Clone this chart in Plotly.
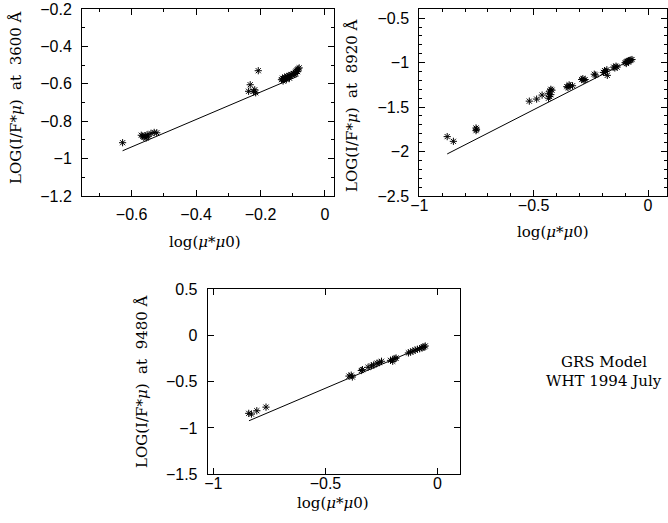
import plotly.graph_objects as go

# ---------------- data ----------------
p1_x = [-0.628, -0.570, -0.566, -0.562, -0.558, -0.555, -0.552, -0.548, -0.540, -0.530, -0.522,
        -0.237, -0.232, -0.222, -0.218, -0.215, -0.207,
        -0.135, -0.132, -0.128, -0.125, -0.122, -0.118, -0.115, -0.112, -0.108, -0.105, -0.102,
        -0.098, -0.095, -0.092, -0.089, -0.086, -0.083, -0.080, -0.130, -0.120, -0.110, -0.090, -0.085]
p1_y = [-0.915, -0.875, -0.880, -0.885, -0.878, -0.890, -0.872, -0.880, -0.865, -0.860, -0.862,
        -0.640, -0.605, -0.640, -0.632, -0.648, -0.530,
        -0.578, -0.570, -0.574, -0.565, -0.568, -0.560, -0.563, -0.556, -0.558, -0.550, -0.553,
        -0.545, -0.548, -0.538, -0.532, -0.525, -0.520, -0.515, -0.585, -0.578, -0.570, -0.545, -0.535]
fit1_x = [-0.628, -0.085]
fit1_y = [-0.958, -0.560]

p2_x = [-0.878, -0.851, -0.752, -0.750, -0.752, -0.519, -0.487, -0.463,
        -0.435, -0.430, -0.425, -0.420, -0.430, -0.425, -0.435,
        -0.355, -0.345, -0.340, -0.350, -0.330,
        -0.290, -0.285, -0.280, -0.275, -0.235, -0.230,
        -0.190, -0.185, -0.195, -0.180, -0.178, -0.150, -0.145, -0.140, -0.135,
        -0.100, -0.095, -0.090, -0.085, -0.080, -0.075, -0.070, -0.095, -0.085]
p2_y = [-1.832, -1.885, -1.735, -1.750, -1.765, -1.433, -1.410, -1.365,
        -1.350, -1.320, -1.300, -1.310, -1.380, -1.360, -1.400,
        -1.270, -1.250, -1.260, -1.280, -1.260,
        -1.190, -1.180, -1.200, -1.190, -1.130, -1.140,
        -1.090, -1.100, -1.110, -1.080, -1.143, -1.050, -1.060, -1.040, -1.050,
        -1.000, -0.990, -0.985, -0.980, -0.975, -0.970, -0.965, -1.010, -0.995]
fit2_x = [-0.878, -0.075]
fit2_y = [-2.027, -0.970]

p3_x = [-0.842, -0.830, -0.806, -0.765,
        -0.395, -0.385, -0.380, -0.340, -0.335,
        -0.310, -0.295, -0.285, -0.270, -0.260, -0.250,
        -0.210, -0.200, -0.190, -0.185, -0.200,
        -0.130, -0.120, -0.110, -0.100, -0.090, -0.080, -0.070, -0.065, -0.060, -0.055]
p3_y = [-0.842, -0.850, -0.814, -0.775,
        -0.440, -0.430, -0.450, -0.380, -0.370,
        -0.345, -0.330, -0.320, -0.300, -0.295, -0.280,
        -0.270, -0.260, -0.250, -0.245, -0.280,
        -0.190, -0.180, -0.170, -0.160, -0.150, -0.145, -0.135, -0.130, -0.125, -0.115]
fit3_x = [-0.841, -0.057]
fit3_y = [-0.922, -0.115]

y_titles = ["3600", "8920", "9480"]
x_title = "log(<i>μ</i>*<i>μ</i>0)"
note_lines = ["GRS Model", "WHT 1994 July"]

# ---------------- figure ----------------
W, H = 668, 523
def px(x):
    return x / W
def py(y):
    return 1 - y / H

fig = go.Figure()
mk = dict(symbol="asterisk-open", size=6, color="black", line=dict(color="black", width=1))
for i, (sx, sy, fx, fy) in enumerate([(p1_x, p1_y, fit1_x, fit1_y),
                                        (p2_x, p2_y, fit2_x, fit2_y),
                                        (p3_x, p3_y, fit3_x, fit3_y)]):
    xa = "x" if i == 0 else f"x{i+1}"
    ya = "y" if i == 0 else f"y{i+1}"
    fig.add_trace(go.Scatter(x=sx, y=sy, mode="markers", marker=mk, xaxis=xa, yaxis=ya,
                             showlegend=False, hoverinfo="skip", cliponaxis=False))
    fig.add_trace(go.Scatter(x=fx, y=fy, mode="lines", line=dict(color="black", width=1),
                             xaxis=xa, yaxis=ya, showlegend=False, hoverinfo="skip"))

tickfont = dict(family="Liberation Sans", size=16, color="black")
serif = dict(family="DejaVu Serif", size=15, color="black")

def ax(domain, rng, dtick, minor, anchor, standoff=6):
    d = dict(domain=domain, range=rng, dtick=dtick, tick0=0, ticks="inside", ticklen=6,
             tickcolor="black", tickwidth=1, showline=True, linecolor="black", linewidth=1,
             mirror="ticks", showgrid=False, zeroline=False, tickfont=tickfont, anchor=anchor,
             ticklabelstandoff=standoff, automargin=False, fixedrange=True)
    if minor:
        d["minor"] = dict(dtick=minor, tick0=0, ticks="inside", ticklen=3, tickcolor="black",
                          tickwidth=1, showgrid=False)
    return d

fig.update_layout(
    template="none",
    width=W, height=H, margin=dict(l=0, r=0, t=0, b=0, autoexpand=False),
    paper_bgcolor="white", plot_bgcolor="white",
    xaxis=ax([px(82), px(334)], [-0.754, 0.028], 0.2, 0.1, "y", 4),
    yaxis=ax([py(196), py(9)], [-1.2, -0.2], 0.2, 0.1, "x"),
    xaxis2=ax([px(419.3), px(667)], [-1.0, 0.083], 0.5, 0.1, "y2", -5),
    yaxis2=ax([py(196), py(9.3)], [-2.5, -0.4], 0.5, 0.1, "x2"),
    xaxis3=ax([px(207.7), px(460)], [-1.025, 0.1], 0.5, None, "y3", -6),
    yaxis3=ax([py(474.3), py(289)], [-1.5, 0.5], 0.5, None, "x3"),
)

ann = []
for (x, y), wl in zip([(16, 98), (352, 106), (142, 382)], y_titles):
    ann.append(dict(x=px(x), y=py(y), xref="paper", yref="paper", showarrow=False,
                    text=f"LOG(I/F*<i>μ</i>)\u00a0\u00a0at\u00a0\u00a0{wl}\u00a0Å",
                    textangle=-90, font=serif, xanchor="center", yanchor="middle"))
for (x, y) in [(205, 242), (553, 232), (333, 503)]:
    ann.append(dict(x=px(x), y=py(y), xref="paper", yref="paper", showarrow=False,
                    text=x_title, font=serif, xanchor="center", yanchor="middle"))
for (y, t) in zip([362, 381], note_lines):
    ann.append(dict(x=px(604), y=py(y), xref="paper", yref="paper", showarrow=False,
                    text=t, font=serif, xanchor="center", yanchor="middle"))
fig.update_layout(annotations=ann)

fig.write_html("out.html", config={"displayModeBar": False},
               post_script="document.body.style.margin='0';document.body.style.overflow='hidden';")
